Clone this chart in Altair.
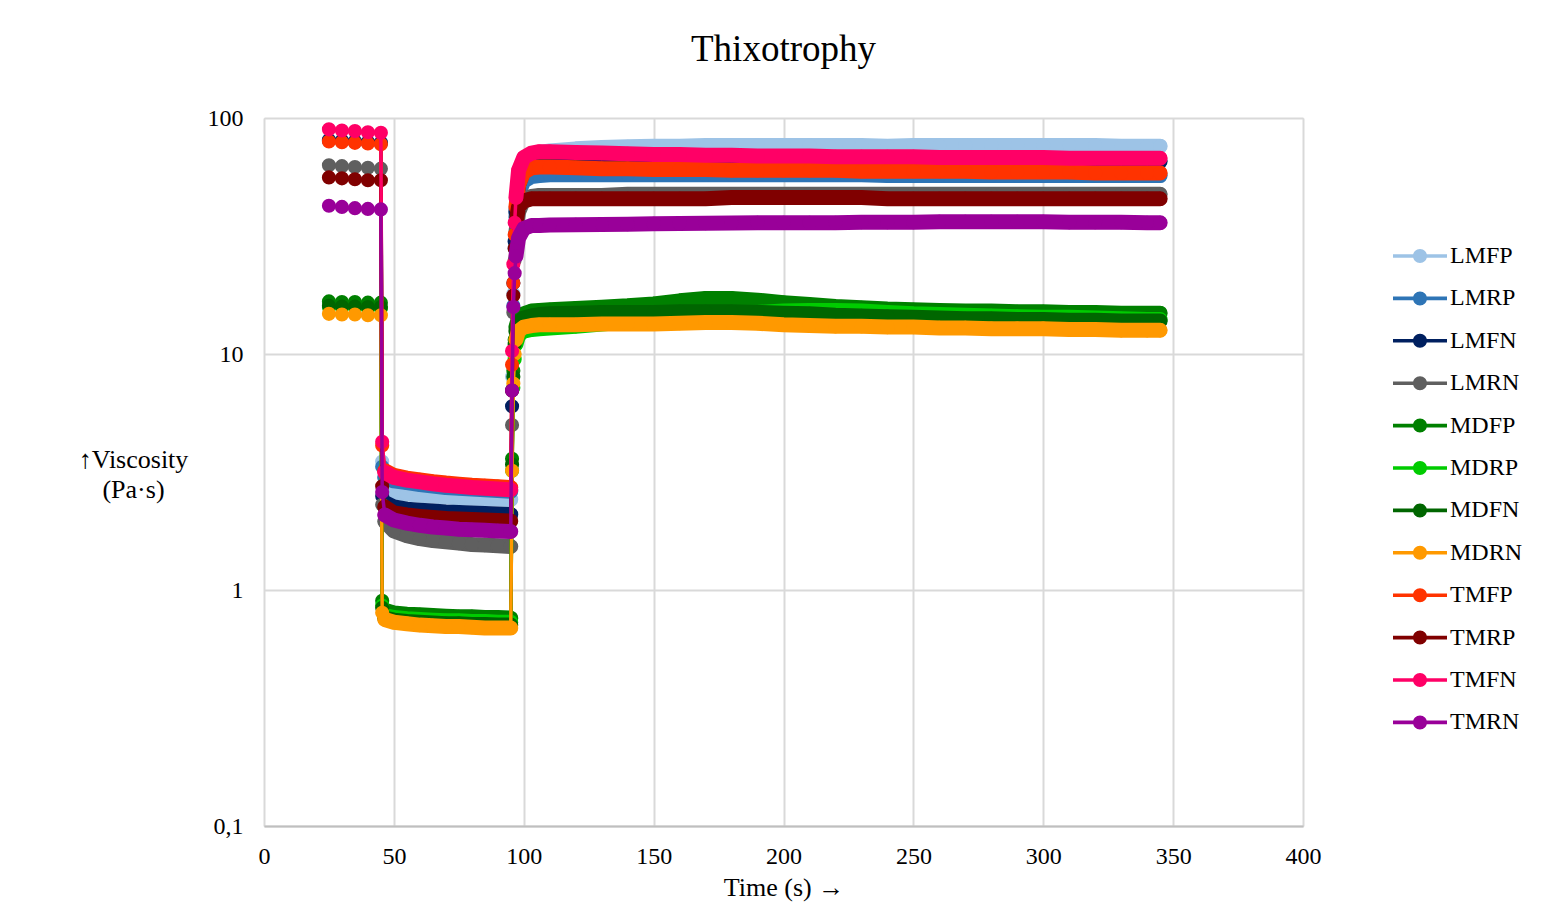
import altair as alt
import pandas as pd

SERIES = ["LMFP", "LMRP", "LMFN", "LMRN", "MDFP", "MDRP", "MDFN", "MDRN",
          "TMFP", "TMRP", "TMFN", "TMRN"]
COLORS = ["#9DC3E6", "#2E75B6", "#002060", "#5F5F5F", "#008000", "#00CC00",
          "#006600", "#FF9900", "#FF3300", "#800000", "#FF0066", "#990099"]

# time (s)
T = [25, 30, 35, 40, 45,
     45.5,
     46.5, 50, 55, 60, 65, 70, 75, 80, 85, 90, 95,
     95.5, 96, 96.5,
     97, 98, 100, 103, 106,
     110, 120, 130, 140, 150, 160, 170, 180, 190, 200, 210, 220, 230, 240,
     250, 260, 270, 280, 290, 300, 310, 320, 330, 340,
     345]
# step of the test: 1 = rest, 0 = jump, 2 = high shear, 3 = recovery
SEG = [1, 1, 1, 1, 1,
       0,
       2, 2, 2, 2, 2, 2, 2, 2, 2, 2, 2,
       0, 0, 0,
       3, 3, 3, 3, 3,
       3, 3, 3, 3, 3, 3, 3, 3, 3, 3, 3, 3, 3, 3,
       3, 3, 3, 3, 3, 3, 3, 3, 3, 3,
       3]

LMFP = [81, 80.5, 80, 79.5, 79,
        3.5,
        2.75, 2.6, 2.55, 2.52, 2.5, 2.48, 2.46, 2.45, 2.44, 2.43, 2.42,
        8, 18, 30,
        40, 55, 66, 70, 71.5,
        72.5, 74, 75, 75.5, 76, 76, 76.5, 76.5, 76.5, 76.5, 76.5, 76.5, 76.5, 76,
        76.5, 76.5, 76.5, 76.5, 76.5, 76.5, 76.5, 76.5, 76, 76,
        76]
LMRP = [80, 79.5, 79, 78.5, 78,
        3.33,
        3.0, 2.9, 2.85, 2.8, 2.76, 2.72, 2.7, 2.68, 2.66, 2.64, 2.62,
        7, 16, 28,
        38, 48, 54, 56.5, 57,
        57.5, 57.5, 57.5, 57.5, 57.5, 57.5, 57.5, 57.5, 57.5, 57.5, 57.5, 57.5, 57.5, 57,
        57, 57, 57, 57, 57, 57, 57, 57, 57, 57,
        57]
LMFN = [80.5, 80, 79.5, 79, 78.5,
        2.5,
        2.35, 2.25, 2.2, 2.18, 2.16, 2.14, 2.13, 2.12, 2.11, 2.1, 2.09,
        6, 20, 30,
        40, 52, 60, 64, 65,
        65.5, 65.5, 65.5, 65.5, 65.5, 65.5, 65.5, 65.5, 65.5, 65.5, 65.5, 65.5, 65.5, 65.5,
        65.5, 65.5, 65.5, 65.5, 65.5, 65.5, 65.5, 65.5, 65.5, 65.5,
        65.5]
LMRN = [63, 62.5, 62, 61.5, 61,
        2.3,
        1.95, 1.78, 1.7, 1.65, 1.62, 1.6, 1.58, 1.56, 1.55, 1.54, 1.53,
        5, 15, 25,
        33, 40, 45, 46.5, 47,
        47, 47, 47, 47.5, 47.5, 47.5, 47.5, 47.5, 47.5, 47.5, 47.5, 47.5, 47.5, 47.5,
        47.5, 47.5, 47.5, 47.5, 47.5, 47.5, 47.5, 47.5, 47.5, 47.5,
        47.5]
MDFP = [16.7, 16.6, 16.6, 16.5, 16.5,
        0.9,
        0.82, 0.8, 0.79, 0.785, 0.78, 0.775, 0.77, 0.77, 0.765, 0.765, 0.76,
        3.6, 8.5, 11.5,
        13, 14.2, 14.8, 15.2, 15.3,
        15.4, 15.6, 15.8, 16.0, 16.3, 16.8, 17.2, 17.2, 16.9, 16.5, 16.2, 15.9, 15.7, 15.5,
        15.4, 15.3, 15.2, 15.2, 15.1, 15.1, 15.0, 15.0, 14.9, 14.9,
        14.9]
MDRP = [15.8, 15.7, 15.7, 15.6, 15.6,
        0.86,
        0.78, 0.765, 0.755, 0.75, 0.745, 0.74, 0.74, 0.735, 0.735, 0.73, 0.73,
        3.2, 7.2, 9.5,
        11, 12, 12.5, 12.7, 12.8,
        12.9, 13.1, 13.4, 13.7, 14.0, 14.3, 14.6, 14.8, 15.0, 15.2, 15.3, 15.3, 15.2, 15.0,
        14.8, 14.7, 14.6, 14.5, 14.4, 14.3, 14.3, 14.2, 14.1, 14.0,
        14.0]
MDFN = [16.0, 15.9, 15.9, 15.8, 15.8,
        0.84,
        0.76, 0.745, 0.735, 0.73, 0.725, 0.72, 0.72, 0.715, 0.715, 0.71, 0.71,
        3.4, 8, 11,
        12.5, 13.6, 14.2, 14.5, 14.7,
        14.8, 14.9, 15.0, 15.0, 15.0, 15.1, 15.1, 15.1, 15.0, 14.9, 14.8, 14.6, 14.5, 14.4,
        14.3, 14.2, 14.1, 14.1, 14.0, 14.0, 13.9, 13.9, 13.8, 13.8,
        13.8]
MDRN = [14.8, 14.7, 14.7, 14.6, 14.6,
        0.8,
        0.75, 0.73, 0.72, 0.71, 0.705, 0.7, 0.7, 0.695, 0.69, 0.69, 0.69,
        3.2, 7.5, 10,
        11.5, 12.5, 13, 13.2, 13.3,
        13.3, 13.3, 13.4, 13.4, 13.4, 13.5, 13.6, 13.6, 13.5, 13.3, 13.2, 13.1, 13.1, 13.0,
        13.0, 12.9, 12.9, 12.8, 12.8, 12.8, 12.7, 12.7, 12.6, 12.6,
        12.6]
TMFP = [79.5, 79, 78.5, 78, 77.5,
        4.1,
        3.2, 3.06, 2.98, 2.93, 2.88, 2.84, 2.81, 2.78, 2.76, 2.74, 2.72,
        9, 20, 32,
        42, 52, 59, 61.5, 62,
        62, 61.5, 61, 61, 60.5, 60.5, 60.5, 60, 60, 60, 60, 60, 59.5, 59.5,
        59.5, 59.5, 59.5, 59, 59, 59, 59, 58.5, 58.5, 58.5,
        58.5]
TMRP = [56, 55.5, 55, 54.5, 54.5,
        2.75,
        2.25, 2.12, 2.08, 2.05, 2.03, 2.01, 2.0, 1.99, 1.98, 1.97, 1.96,
        7, 17.7, 28,
        36, 42, 44.5, 45.5, 45.5,
        45.5, 45.5, 45.5, 45.5, 45.5, 45.5, 45.5, 46, 46, 46, 46, 46, 46, 45.5,
        45.5, 45.5, 45.5, 45.5, 45.5, 45.5, 45.5, 45.5, 45.5, 45.5,
        45.5]
TMFN = [89.5, 88.5, 88, 87, 86.5,
        4.25,
        3.15, 3.0, 2.92, 2.87, 2.82, 2.78, 2.75, 2.72, 2.7, 2.68, 2.66,
        10.3, 24, 36,
        46, 60, 68, 71, 72,
        72, 71.5, 71, 70.5, 70, 70, 69.5, 69.5, 69, 69, 69, 68.5, 68.5, 68.5,
        68.5, 68, 68, 68, 68, 68, 67.5, 67.5, 67.5, 67.5,
        67.5]
TMRN = [42.5, 42, 41.5, 41.2, 41,
        2.6,
        2.08, 1.98, 1.92, 1.88, 1.85, 1.83, 1.81, 1.8, 1.79, 1.78, 1.77,
        7, 15.8, 22,
        26, 31, 34, 35, 35,
        35.2, 35.3, 35.4, 35.5, 35.6, 35.7, 35.8, 35.9, 36, 36, 36, 36, 36.2, 36.2,
        36.2, 36.3, 36.3, 36.3, 36.3, 36.3, 36.2, 36.2, 36.2, 36,
        36]

X_TICKS = [0, 50, 100, 150, 200, 250, 300, 350, 400]
Y_TICKS = [0.1, 1, 10, 100]

VALUES = [LMFP, LMRP, LMFN, LMRN, MDFP, MDRP, MDFN, MDRN, TMFP, TMRP, TMFN, TMRN]
rows = []
for name, vals in zip(SERIES, VALUES):
    for t, s, v in zip(T, SEG, vals):
        rows.append({"series": name, "t": t, "seg": s, "v": v})
df = pd.DataFrame(rows)

FONT = "Liberation Serif"

x = alt.X("t:Q",
          scale=alt.Scale(domain=[0, 400], nice=False),
          axis=alt.Axis(values=X_TICKS, title="Time (s) \u2192", ticks=False,
                        labelFlush=False,
                        labelFont=FONT, labelFontSize=24, labelColor="black",
                        labelBaseline="alphabetic", labelPadding=37,
                        domainColor="#bfbfbf", domainWidth=2,
                        gridColor="#d9d9d9", gridWidth=2,
                        titleFont=FONT, titleFontSize=26, titleFontWeight="normal",
                        titleColor="black", titleX=519.5, titleY=69,
                        titleBaseline="alphabetic", titleAlign="center"))
y = alt.Y("v:Q",
          scale=alt.Scale(type="log", domain=[0.1, 100], nice=False),
          axis=alt.Axis(values=Y_TICKS, ticks=False, domain=False, labelFlush=False,
                        labelExpr="datum.value < 0.5 ? '0,1' : format(datum.value, 'd')",
                        labelFont=FONT, labelFontSize=24, labelColor="black",
                        labelPadding=21, labelBaseline="middle",
                        gridColor="#d9d9d9", gridWidth=2,
                        title=["\u2191Viscosity", "(Pa\u00b7s)"], titleAngle=0,
                        titleFont=FONT, titleFontSize=26, titleFontWeight="normal",
                        titleColor="black", titleX=-131, titleY=341,
                        titleAlign="center", titleBaseline="middle",
                        titleLineHeight=30))

# stroke scale for the lines: same colours, domain listed alphabetically so that
# its (hidden) legend is not merged with the colour legend of the markers
pairs = sorted(zip(SERIES, COLORS))
stroke = alt.Stroke("series:N",
                    scale=alt.Scale(domain=[p[0] for p in pairs], range=[p[1] for p in pairs]),
                    legend=None)
SYMBOL = ("M-2.7,-0.18L2.7,-0.18L2.7,0.18L-2.7,0.18Z "
          "M0.7,0A0.7,0.7 0 1,1 -0.7,0A0.7,0.7 0 1,1 0.7,0Z")
color = alt.Color("series:N", scale=alt.Scale(domain=SERIES, range=COLORS),
                  legend=alt.Legend(title=None, orient="none", legendX=1144, legendY=126,
                                    symbolType=SYMBOL, symbolSize=400,
                                    symbolStrokeWidth=0, symbolOpacity=1,
                                    labelFont=FONT, labelFontSize=24, labelColor="black",
                                    labelOffset=18, rowPadding=18.4, padding=0,
                                    labelLimit=200))

base = alt.Chart(df)
layers = []
for name in SERIES:
    sel = base.transform_filter(alt.datum.series == name)
    layers.append(sel.mark_line(strokeWidth=3.5).encode(
        x=x, y=y, stroke=stroke, order="t:Q"))
    layers.append(sel.transform_filter(alt.datum.seg >= 2).mark_line(
        strokeWidth=15, strokeCap="round", strokeJoin="round").encode(
        x=x, y=y, stroke=stroke, detail="seg:N", order="t:Q"))
    layers.append(sel.mark_circle(size=200, opacity=1).encode(
        x=x, y=y, color=color))

chart = alt.layer(*layers).properties(
    width=1039, height=708,
    title=alt.TitleParams("Thixotrophy", font=FONT, fontSize=37, fontWeight="normal",
                          color="black", anchor="middle", frame="group", offset=37),
    autosize=alt.AutoSizeParams(type="none"),
    padding={"left": 264, "top": 118, "right": 238, "bottom": 76},
).configure_view(strokeWidth=0).configure(background="white")

chart.save("out.html", embed_options={"renderer": "svg", "actions": False})
